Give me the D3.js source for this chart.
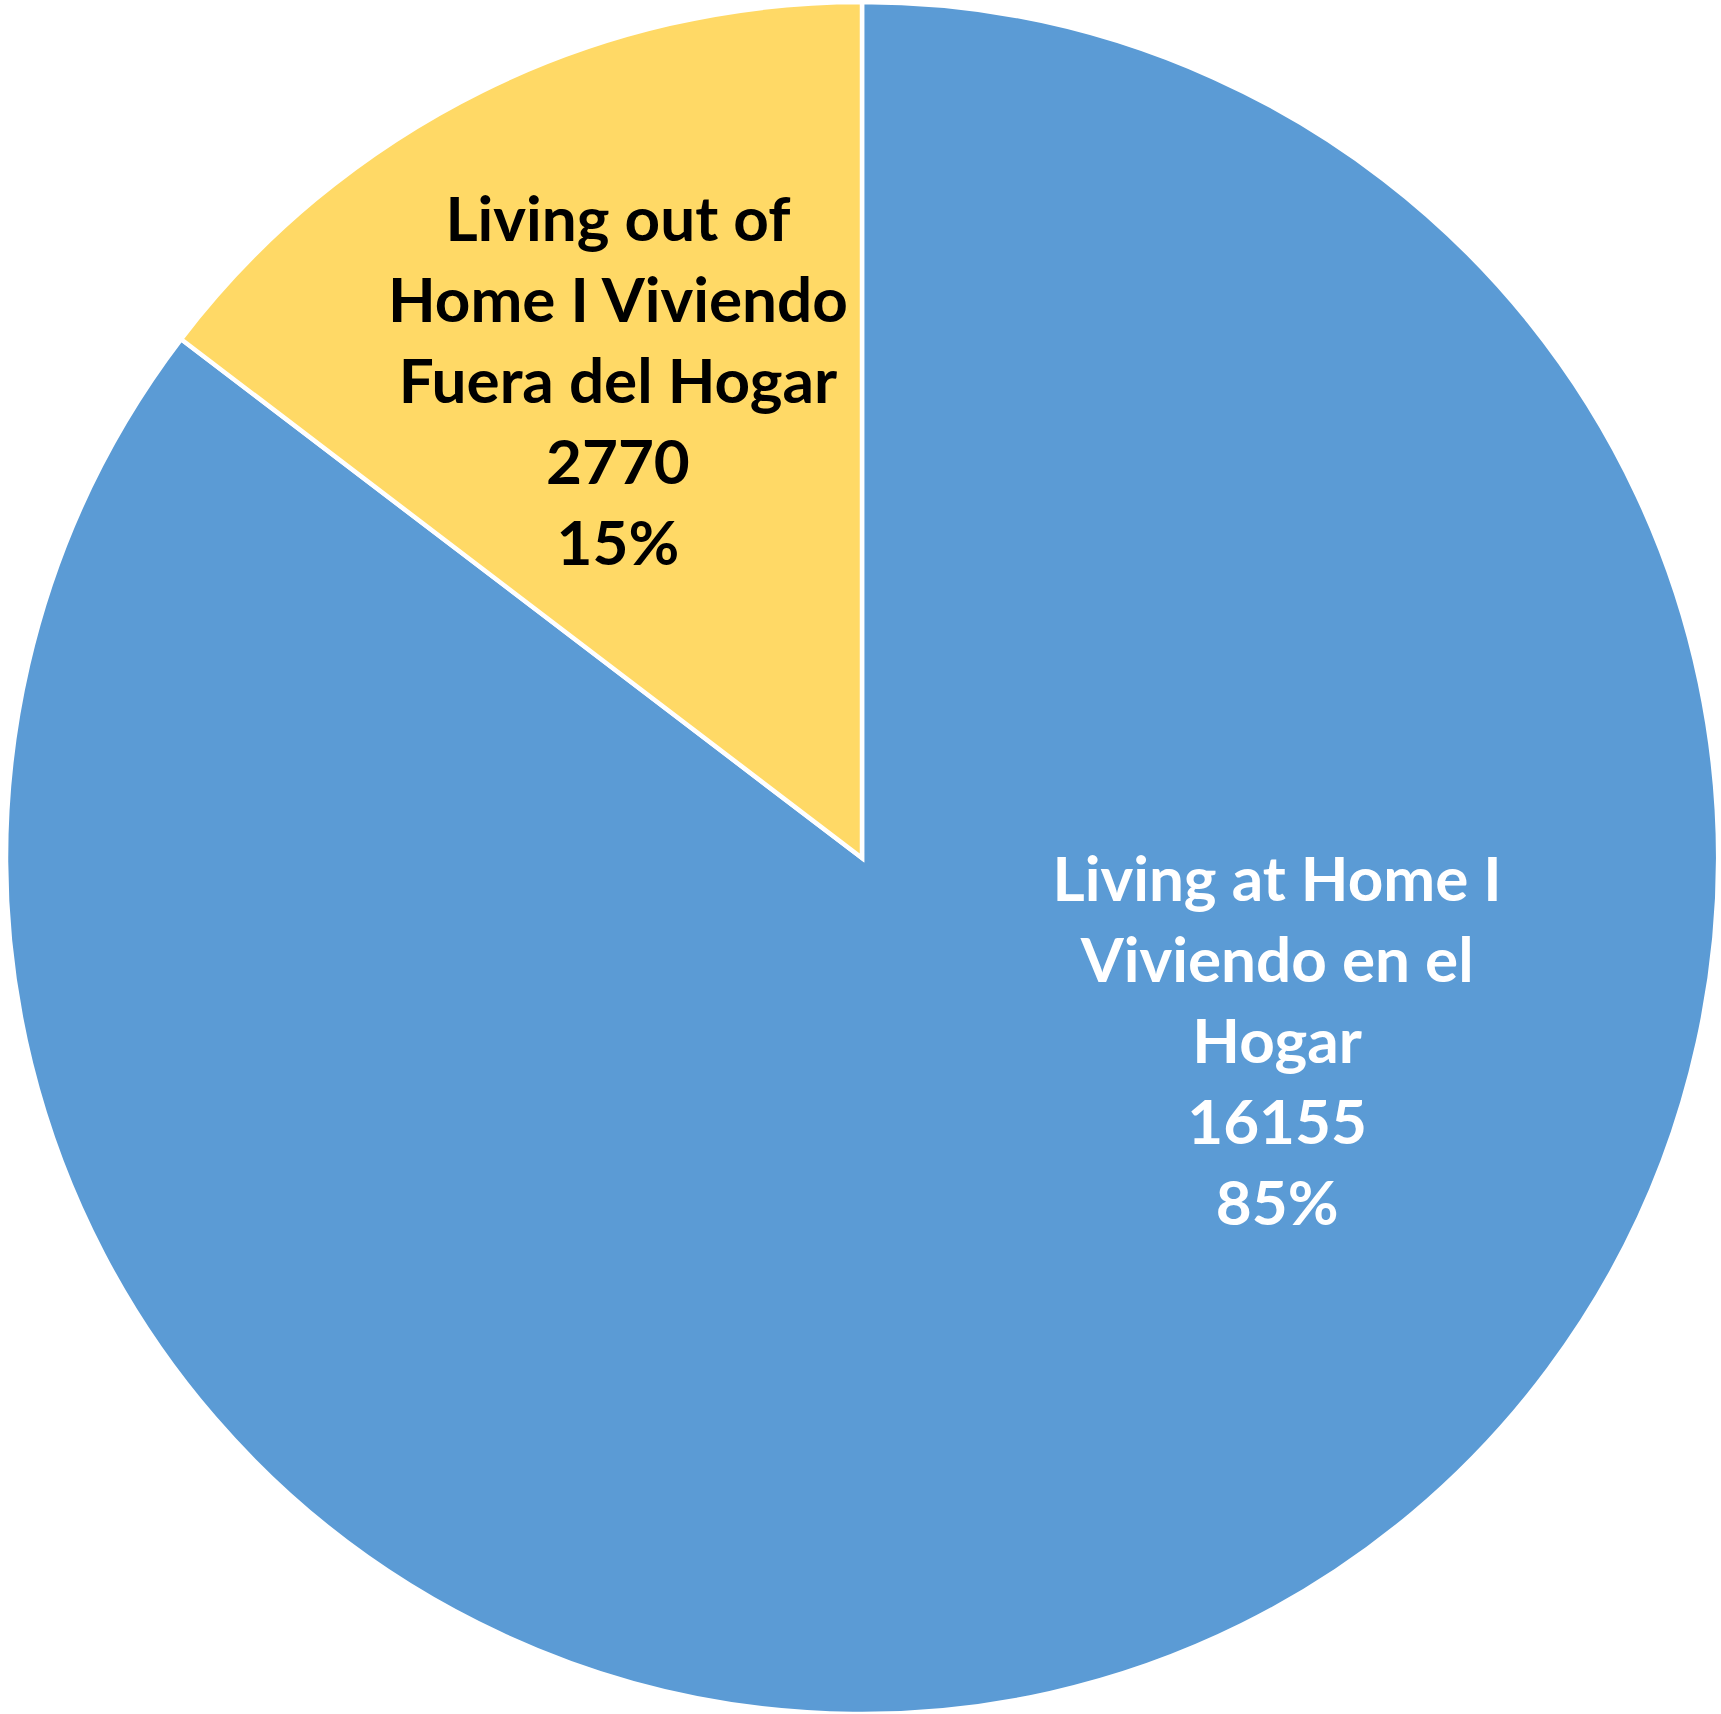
<!DOCTYPE html>
<html>
<head>
<meta charset="utf-8">
<script src="https://cdn.jsdelivr.net/npm/d3@7"></script>
<style>
  html, body { margin: 0; padding: 0; background: #ffffff; }
  svg { display: block; }
</style>
</head>
<body>
<svg id="chart" width="1721" height="1714"></svg>
<script>
// ---- data ----
const categories = ["Living at Home I Viviendo en el Hogar", "Living out of Home I Viviendo Fuera del Hogar"];
const values = [16155, 2770];
const percentLabels = ["85%", "15%"];
const labelLines = [
  ["Living at Home I", "Viviendo en el", "Hogar"],
  ["Living out of", "Home I Viviendo", "Fuera del Hogar"]
];
const colors = ["#5B9BD5", "#FFD966"];
const textColors = ["#ffffff", "#000000"];

// ---- layout ----
const W = 1721, H = 1714;
const cx = 862, cy = 858, R = 856;
const fontSize = 62, lineH = 81;
// label placement (angle from 12 o'clock clockwise in degrees, radius as fraction of R)
const labelPlacement = [
  { angle: 113.8, r: 0.53 },
  { angle: -27.1, r: 0.626 }
];

const svg = d3.select("#chart");
const g = svg.append("g").attr("transform", `translate(${cx},${cy})`);

const data = categories.map((c, i) => ({ name: c, value: values[i], i }));

const pie = d3.pie().value(d => d.value).sort(null).startAngle(0).endAngle(2 * Math.PI);
const arcs = pie(data);

const arc = d3.arc().innerRadius(0).outerRadius(R);

g.selectAll("path.slice")
  .data(arcs)
  .join("path")
  .attr("class", "slice")
  .attr("d", arc)
  .attr("fill", d => colors[d.data.i])
  .attr("stroke", "#ffffff")
  .attr("stroke-width", 4.5)
  .attr("stroke-linejoin", "miter");

// labels
const labels = g.selectAll("g.label")
  .data(arcs)
  .join("g")
  .attr("class", "label")
  .attr("transform", d => {
    const p = labelPlacement[d.data.i];
    const a = p.angle * Math.PI / 180;
    const rr = p.r * R;
    return `translate(${rr * Math.sin(a)},${-rr * Math.cos(a)})`;
  });

labels.each(function(d) {
  const i = d.data.i;
  const lines = labelLines[i].concat([String(values[i]), percentLabels[i]]);
  const n = lines.length;
  d3.select(this).selectAll("text")
    .data(lines)
    .join("text")
    .attr("x", 0)
    .attr("y", (t, k) => (k - (n - 1) / 2) * lineH)
    .attr("dy", "0.35em")
    .attr("text-anchor", "middle")
    .attr("font-family", "Lato, 'Open Sans', sans-serif")
    .attr("font-weight", "bold")
    .attr("font-size", fontSize)
    .attr("fill", textColors[i])
    .text(t => t);
});
</script>
</body>
</html>
